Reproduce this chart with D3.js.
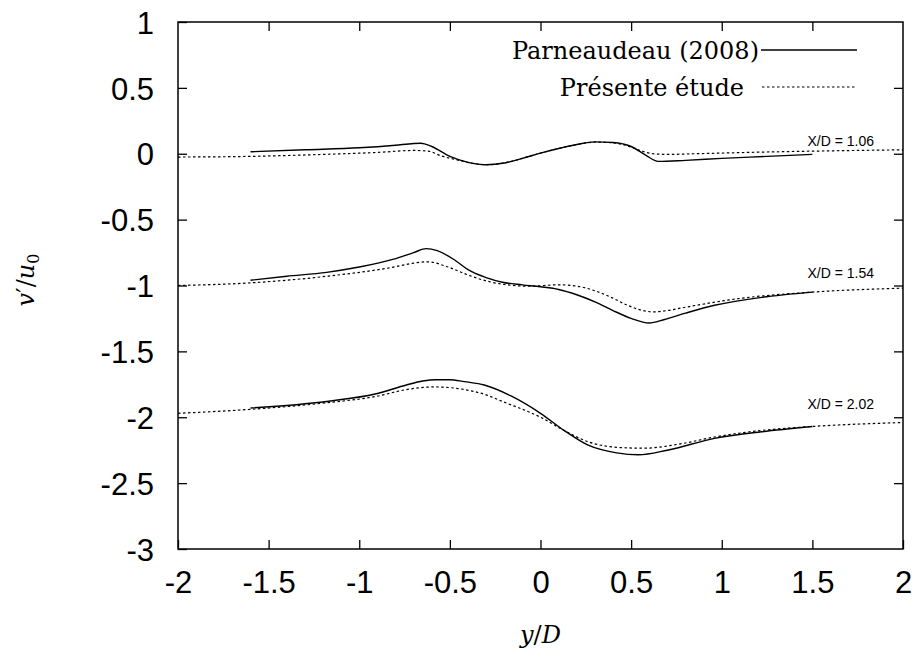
<!DOCTYPE html>
<html>
<head>
<meta charset="utf-8">
<script src="https://cdn.jsdelivr.net/npm/d3@7"></script>
<style>
  body { margin: 0; background: #fff; }
  svg { display: block; }
</style>
</head>
<body>
<div id="chart"></div>
<script>
// curves: [y/D, v'/u0]
const parn106 = [[-1.6, 0.015], [-1.3, 0.03], [-1.0, 0.045], [-0.8, 0.065], [-0.7, 0.078], [-0.66, 0.08],
  [-0.6, 0.055], [-0.5, -0.02], [-0.4, -0.065], [-0.3, -0.083], [-0.2, -0.07], [-0.1, -0.035], [0.0, 0.005],
  [0.1, 0.04], [0.2, 0.07], [0.3, 0.09], [0.4, 0.085], [0.5, 0.055], [0.58, -0.01], [0.65, -0.058],
  [0.8, -0.05], [1.0, -0.035], [1.25, -0.02], [1.5, -0.005]];
const pres106 = [[-2.0, -0.025], [-1.6, -0.02], [-1.2, -0.005], [-0.9, 0.01], [-0.7, 0.025], [-0.62, 0.02],
  [-0.55, -0.015], [-0.45, -0.05], [-0.35, -0.078], [-0.3, -0.083], [-0.2, -0.07], [-0.1, -0.035], [0.0, 0.005],
  [0.1, 0.04], [0.2, 0.07], [0.3, 0.088], [0.4, 0.083], [0.5, 0.05], [0.56, 0.02], [0.62, 0.0], [0.7, -0.005],
  [0.85, 0.0], [1.2, 0.012], [1.6, 0.022], [2.0, 0.03]];

const parn154 = [[-1.6, -0.96], [-1.4, -0.93], [-1.18, -0.9], [-1.0, -0.86], [-0.81, -0.8], [-0.7, -0.75],
  [-0.63, -0.72], [-0.57, -0.735], [-0.47, -0.81], [-0.4, -0.88], [-0.3, -0.94], [-0.21, -0.975], [-0.1, -0.995],
  [0.0, -1.01], [0.1, -1.03], [0.2, -1.07], [0.31, -1.13], [0.4, -1.19], [0.5, -1.25], [0.6, -1.285],
  [0.68, -1.26], [0.8, -1.21], [0.96, -1.15], [1.22, -1.09], [1.5, -1.05]];
const pres154 = [[-2.0, -1.0], [-1.6, -0.98], [-1.18, -0.93], [-0.81, -0.86], [-0.7, -0.83], [-0.62, -0.82],
  [-0.53, -0.85], [-0.4, -0.92], [-0.3, -0.965], [-0.21, -0.99], [-0.06, -1.005], [0.1, -0.995], [0.2, -1.005],
  [0.3, -1.04], [0.39, -1.09], [0.48, -1.15], [0.55, -1.185], [0.62, -1.2], [0.7, -1.19], [0.78, -1.17],
  [1.09, -1.1], [1.5, -1.05], [2.0, -1.02]];

const parn202 = [[-1.6, -1.93], [-1.18, -1.88], [-0.9, -1.82], [-0.74, -1.755], [-0.65, -1.725], [-0.58, -1.715],
  [-0.5, -1.715], [-0.42, -1.73], [-0.31, -1.755], [-0.16, -1.84], [0.0, -1.97], [0.13, -2.1], [0.26, -2.21],
  [0.42, -2.27], [0.54, -2.285], [0.7, -2.25], [0.96, -2.16], [1.22, -2.11], [1.5, -2.07]];
const pres202 = [[-2.0, -1.97], [-1.6, -1.94], [-1.18, -1.89], [-0.9, -1.84], [-0.74, -1.79], [-0.59, -1.77],
  [-0.5, -1.775], [-0.42, -1.79], [-0.3, -1.83], [-0.21, -1.88], [0.0, -2.0], [0.13, -2.1], [0.26, -2.185],
  [0.44, -2.23], [0.57, -2.235], [0.78, -2.2], [0.96, -2.15], [1.22, -2.1], [1.5, -2.07], [2.0, -2.04]];

const stations = ["X/D = 1.06", "X/D = 1.54", "X/D = 2.02"];
const stationY = [0.0, -1.0, -2.0];
const xTicks = [-2, -1.5, -1, -0.5, 0, 0.5, 1, 1.5, 2];
const yTicks = [1, 0.5, 0, -0.5, -1, -1.5, -2, -2.5, -3];
const legendNames = ["Parneaudeau (2008)", "Présente étude"];

const width = 919, height = 664;
const margin = { left: 178, right: 16, top: 22, bottom: 115 };

const svg = d3.select("#chart").append("svg")
    .attr("width", width)
    .attr("height", height);

const x = d3.scaleLinear().domain([-2, 2]).range([margin.left, width - margin.right]);
const y = d3.scaleLinear().domain([-3, 1]).range([height - margin.bottom, margin.top]);

const tickLen = 9;
// plain hyphen for negatives, as gnuplot prints them
const fmt = d => String(d);

// axes with inward ticks, mirrored on top/right like gnuplot
const xAxisB = d3.axisBottom(x).tickValues(xTicks).tickSize(-tickLen).tickPadding(22).tickFormat(fmt);
const xAxisT = d3.axisTop(x).tickValues(xTicks.slice(1, -1)).tickSize(-tickLen).tickFormat("");
const yAxisL = d3.axisLeft(y).tickValues(yTicks).tickSize(-tickLen).tickPadding(24).tickFormat(fmt);
const yAxisR = d3.axisRight(y).tickValues(yTicks.slice(1, -1)).tickSize(-tickLen).tickFormat("");

const gx = svg.append("g").attr("transform", `translate(0,${y(-3)})`).call(xAxisB);
svg.append("g").attr("transform", `translate(0,${y(1)})`).call(xAxisT);
const gy = svg.append("g").attr("transform", `translate(${x(-2)},0)`).call(yAxisL);
svg.append("g").attr("transform", `translate(${x(2)},0)`).call(yAxisR);

svg.selectAll(".domain").remove();
svg.selectAll(".tick line").attr("stroke", "#000").attr("stroke-width", 1.3);
svg.selectAll(".tick text")
    .attr("font-family", "'Liberation Sans', Arial, sans-serif")
    .attr("font-size", 31)
    .attr("fill", "#000");
gx.selectAll(".tick text").attr("dy", "0.71em");
gy.selectAll(".tick text").attr("dy", "0.36em");

// frame
svg.append("rect")
    .attr("x", x(-2)).attr("y", y(1))
    .attr("width", x(2) - x(-2)).attr("height", y(-3) - y(1))
    .attr("fill", "none").attr("stroke", "#000").attr("stroke-width", 1.5);

const line = d3.line()
    .x(d => x(d[0]))
    .y(d => y(d[1]))
    .curve(d3.curveMonotoneX);

const solid = [parn106, parn154, parn202];
const dotted = [pres106, pres154, pres202];

svg.append("g").selectAll("path")
    .data(dotted)
    .enter()
    .append("path")
    .attr("d", line)
    .attr("fill", "none")
    .attr("stroke", "#000")
    .attr("stroke-width", 1.2)
    .attr("stroke-dasharray", "2.5,2.5");

svg.append("g").selectAll("path")
    .data(solid)
    .enter()
    .append("path")
    .attr("d", line)
    .attr("fill", "none")
    .attr("stroke", "#000")
    .attr("stroke-width", 1.4);

// station labels
svg.append("g").selectAll("text")
    .data(stations)
    .enter()
    .append("text")
    .attr("x", x(1.84))
    .attr("y", (d, i) => y(stationY[i]) - 8)
    .attr("text-anchor", "end")
    .attr("font-family", "'Liberation Sans', Arial, sans-serif")
    .attr("font-size", 14)
    .text(d => d);

// legend
const legend = svg.append("g")
    .attr("font-family", "'DejaVu Serif', serif")
    .attr("font-size", 24);
const legY = [50, 87];
legendNames.forEach((name, i) => {
    legend.append("text")
        .attr("x", i === 0 ? 759 : 744)
        .attr("y", legY[i] + 9)
        .attr("text-anchor", "end")
        .text(name);
    legend.append("line")
        .attr("x1", i === 0 ? 761 : 762).attr("x2", 857)
        .attr("y1", legY[i]).attr("y2", legY[i])
        .attr("stroke", "#000")
        .attr("stroke-width", i === 0 ? 1.4 : 1.2)
        .attr("stroke-dasharray", i === 0 ? null : "2.5,2.5");
});

// axis titles
svg.append("text")
    .attr("x", x(0)).attr("y", 643)
    .attr("text-anchor", "middle")
    .attr("font-family", "'DejaVu Serif', serif")
    .attr("font-size", 24)
    .html("<tspan font-style='italic'>y</tspan>/<tspan font-style='italic'>D</tspan>");

svg.append("text")
    .attr("transform", "translate(34,280) rotate(-90)")
    .attr("text-anchor", "middle")
    .attr("font-family", "'DejaVu Serif', serif")
    .attr("font-size", 24)
    .html("<tspan font-style='italic'>v</tspan>′/<tspan font-style='italic'>u</tspan><tspan font-size='16' dy='5'>0</tspan>");
</script>
</body>
</html>
